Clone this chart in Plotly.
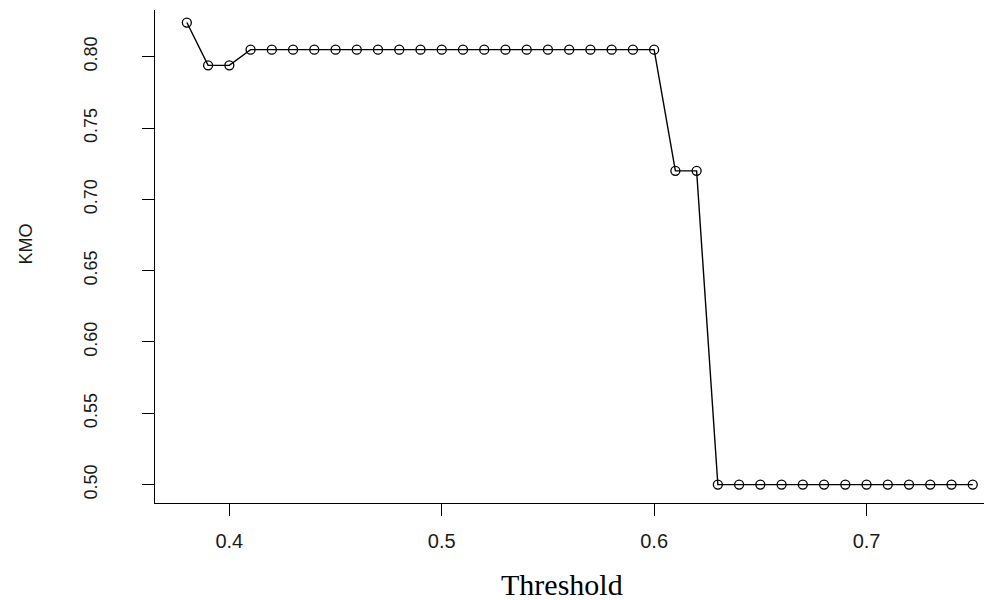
import plotly.graph_objects as go

threshold = [0.38, 0.39, 0.40, 0.41, 0.42, 0.43, 0.44, 0.45, 0.46, 0.47, 0.48, 0.49,
             0.50, 0.51, 0.52, 0.53, 0.54, 0.55, 0.56, 0.57, 0.58, 0.59, 0.60,
             0.61, 0.62, 0.63, 0.64, 0.65, 0.66, 0.67, 0.68, 0.69, 0.70, 0.71,
             0.72, 0.73, 0.74, 0.75]
kmo = [0.824, 0.794, 0.794] + [0.805] * 20 + [0.720, 0.720] + [0.500] * 13

x_ticks = [0.4, 0.5, 0.6, 0.7]
x_tick_labels = ["0.4", "0.5", "0.6", "0.7"]
y_ticks = [0.50, 0.55, 0.60, 0.65, 0.70, 0.75, 0.80]
y_tick_labels = ["0.50", "0.55", "0.60", "0.65", "0.70", "0.75", "0.80"]

fig = go.Figure()
fig.add_trace(go.Scatter(
    x=threshold, y=kmo, mode="lines+markers",
    line=dict(color="black", width=1.4),
    marker=dict(symbol="circle-open", size=9, color="black", line=dict(width=1.3)),
    showlegend=False,
))

axis_font = dict(family="Liberation Sans, Arial, sans-serif", size=20, color="#1a1a1a")
yaxis_font = dict(family="Liberation Sans, Arial, sans-serif", size=18, color="#1a1a1a")

fig.update_layout(
    width=984, height=600,
    margin=dict(l=155, r=0, t=10, b=97),
    paper_bgcolor="white", plot_bgcolor="white",
    xaxis=dict(
        range=[0.365, 0.7553], tickvals=x_ticks, ticktext=x_tick_labels,
        showline=True, linecolor="black", linewidth=1.3,
        ticks="outside", ticklen=12, tickwidth=1.3, tickcolor="black",
        showgrid=False, zeroline=False, tickfont=axis_font,
        ticklabelstandoff=8,
    ),
    yaxis=dict(
        range=[0.4871, 0.8328], tickvals=y_ticks, ticktext=y_tick_labels,
        showline=True, linecolor="black", linewidth=1.3,
        ticks="outside", ticklen=12, tickwidth=1.3, tickcolor="black",
        showgrid=False, zeroline=False, tickfont=yaxis_font, tickangle=-90,
        ticklabelstandoff=38,
    ),
    annotations=[
        dict(text="Threshold", xref="paper", yref="paper", x=(562 - 155) / 829,
             y=-(584 - 503) / 493, xanchor="center", yanchor="middle", showarrow=False,
             font=dict(family="Liberation Serif, Times New Roman, serif", size=30, color="black")),
        dict(text="KMO", xref="paper", yref="paper", x=-(155 - 25.5) / 829,
             y=(503 - 244) / 493, xanchor="center", yanchor="middle", showarrow=False,
             textangle=-90,
             font=dict(family="Liberation Sans, Arial, sans-serif", size=18, color="#1a1a1a")),
    ],
)

fig.write_html(
    "out.html",
    config={"displayModeBar": False},
    post_script="document.body.style.margin='0';document.body.style.overflow='hidden';",
)
